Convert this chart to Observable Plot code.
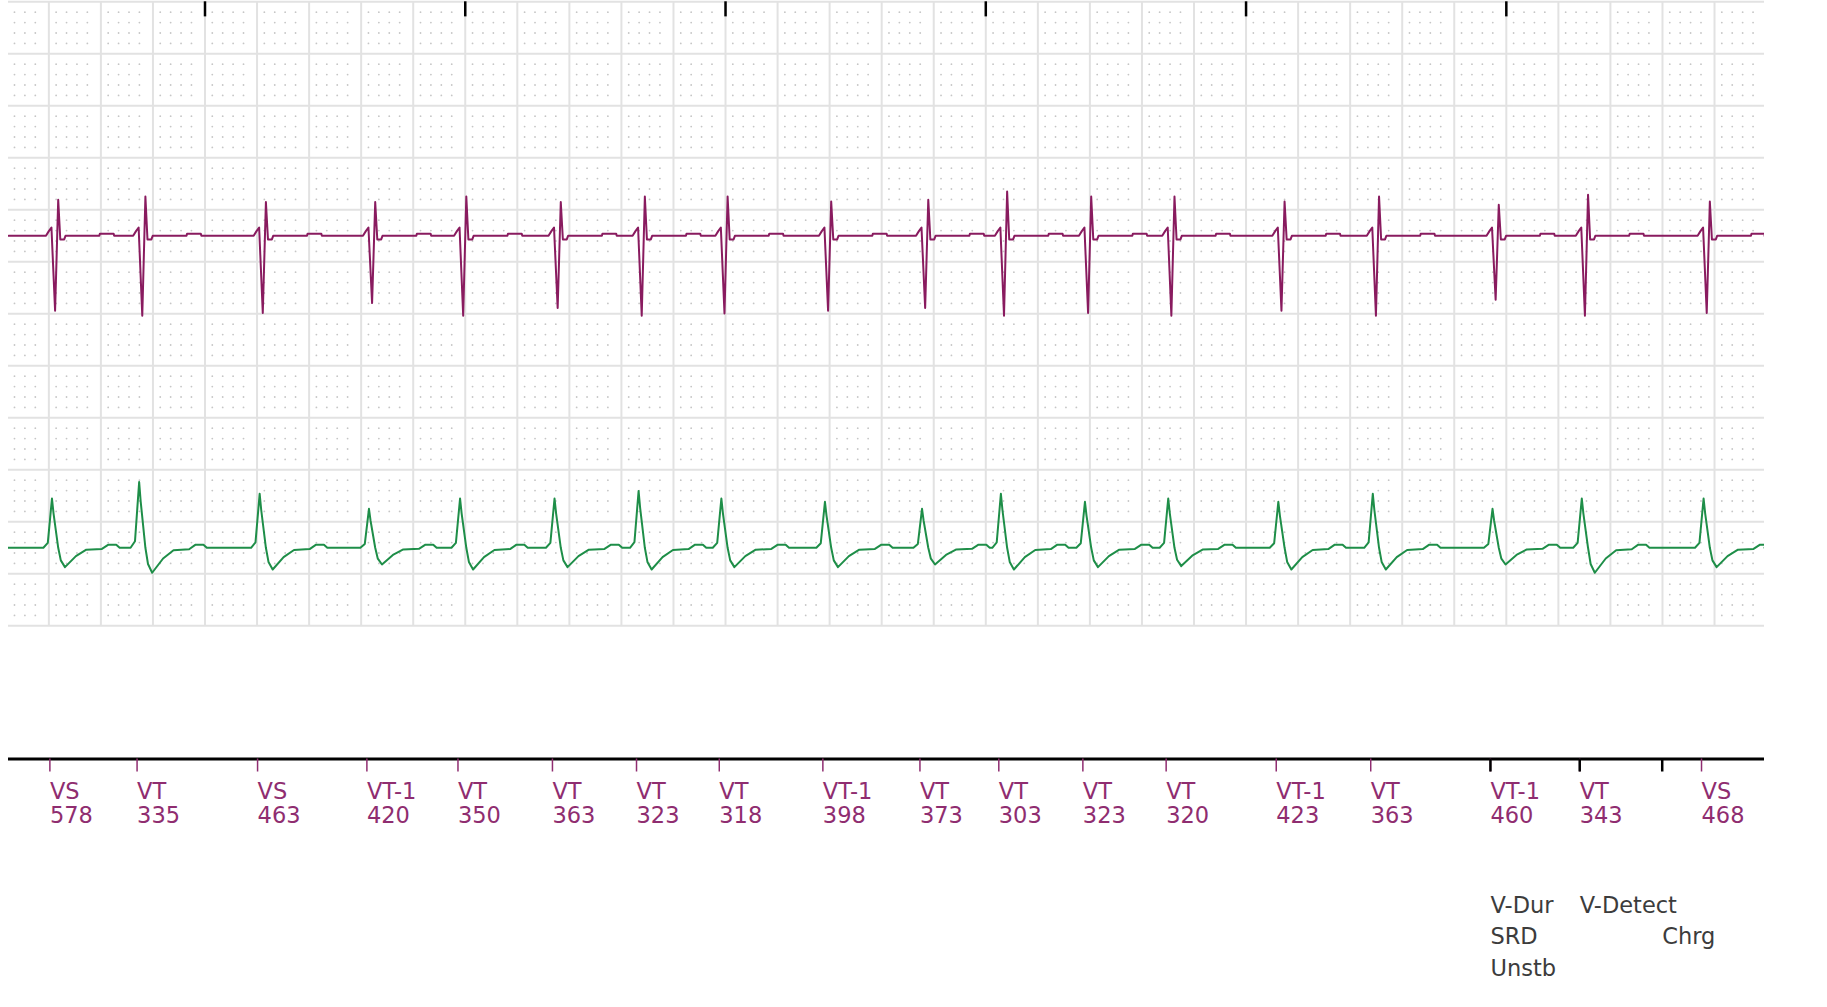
<!DOCTYPE html>
<html><head><meta charset="utf-8">
<script src="https://cdn.jsdelivr.net/npm/d3@7"></script>
<script src="https://cdn.jsdelivr.net/npm/@observablehq/plot@0.6"></script>
<style>
html,body{margin:0;padding:0;background:#fff;}
#chart svg{display:block;}
</style></head><body><div id="chart"></div>
<script>
// ---------------- data read from the strip ----------------
// marker channel: label and interval (ms) of each sensed ventricular event
const eventLabels    = ["VS","VT","VS","VT-1","VT","VT","VT","VT","VT-1","VT","VT","VT","VT","VT-1","VT","VT-1","VT","VS"];
const eventIntervals = [578, 335, 463, 420, 350, 363, 323, 318, 398, 373, 303, 323, 320, 423, 363, 460, 343, 468];
const firstEventTime = 404;            // ms on the strip time axis
// near-field EGM (purple): positive and negative deflection per beat, mm
const nearUp   = [3.46,3.78,3.24,3.24,3.78,3.24,3.78,3.78,3.30,3.46,4.26,3.78,3.78,3.30,3.78,2.98,3.94,3.30];
const nearDown = [7.21,7.69,7.43,6.47,7.69,6.95,7.69,7.47,7.21,6.95,7.69,7.43,7.69,7.21,7.69,6.15,7.69,7.43];
// far-field EGM (green): R peak and following trough per beat, mm
const farPeak   = [4.74,6.32,5.19,3.75,4.74,4.74,5.45,4.74,4.42,3.75,5.19,4.42,4.74,4.42,5.19,3.75,4.74,4.74];
const farTrough = [1.86,2.40,2.09,1.61,2.09,1.86,2.09,1.86,1.86,1.61,2.09,1.86,1.76,2.09,2.09,1.61,2.40,1.86];
// beat shapes read from the strip: [ms from marker, mm, x up/peak, x down/trough]
const nearShape = [[-15,0,0,0],[-4,0.45,0,0],[6,0.8,0,0],[20,0,0,-1],[32,0,1,0],[40,-0.35,0,0],[55,-0.35,0,0],[60,0,0,0],
                   [190,0,0,0],[192,0.2,0,0],[245,0.2,0,0],[247,0,0,0]];
const farShape  = [[-25,0,0,0],[-8,0,0.1,0],[8,0,1,0],[14,0,0.7,0],[32,0,0,0],[42,0,0,-0.65],[58,0,0,-1],[100,0,0,-0.43],
                   [140,0,0,-0.1],[200,0,0,-0.06],[225,0.3,0,0],[255,0.3,0,0],[268,0,0,0]];
// annotations under the marker channel
const annotationEvents = [15, 16];
const annotationTexts  = ["V-Dur\nSRD\nUnstb", "V-Detect"];
const chargeTime = 6599;
const chargeText = "\nChrg";
const secondTicks = [1000, 2000, 3000, 4000, 5000, 6000];
const timeDomain = [245, 6992];

// ---------------- build tables ----------------
const eventTimes = [];
eventIntervals.forEach((iv, i) => eventTimes.push(i === 0 ? firstEventTime : eventTimes[i - 1] + iv));
const labelOf = new Map(eventTimes.map((t, i) => [t, eventLabels[i] + "\n" + eventIntervals[i]]));

function trace(shape, a, b) {
  const pts = [{t: timeDomain[0], v: 0}];
  eventTimes.forEach((T, i) => {
    for (const [dt, c, ka, kb] of shape) pts.push({t: T + dt, v: c + ka * a[i] + kb * b[i]});
  });
  pts.push({t: timeDomain[1], v: 0});
  return pts;
}
const nearBase = 37.5, farBase = 7.5;   // channel baselines on the 0–60 mm paper
const near = trace(nearShape, nearUp, nearDown).map(d => ({t: d.t, y: nearBase + d.v}));
const far  = trace(farShape, farPeak, farTrough).map(d => ({t: d.t, y: farBase + d.v}));

const annotations = annotationEvents.map((e, i) => ({t: eventTimes[e], text: annotationTexts[i]}))
  .concat([{t: chargeTime, text: chargeText}]);
const blackTicks = annotationEvents.map(e => eventTimes[e]).concat([chargeTime]);

// paper grid
const majorX = d3.range(400, timeDomain[1], 200);
const majorY = d3.range(0, 61, 5);
const minorX = d3.range(240, timeDomain[1], 40).filter(t => t % 200 !== 0).map(t => t - 12).filter(t => t > timeDomain[0] && t < timeDomain[1] - 10);
const minorY = d3.range(0, 60, 1).filter(y => y % 5 !== 0);
const dots = [];
for (const x of minorX) for (const y of minorY) dots.push({x, y});

const yMin = -12.81;
const purple = "#891b5f", green = "#1e8e48", labelColor = "#8f2d70";

const chart = Plot.plot({
  width: 1827, height: 1007,
  marginLeft: 8, marginRight: 63, marginTop: 1.3, marginBottom: 248.5,
  x: {domain: timeDomain},
  y: {domain: [yMin, 60], axis: null},
  style: {fontFamily: "DejaVu Sans", background: "white", overflow: "visible"},
  marks: [
    Plot.dot(dots, {x: "x", y: "y", r: 0.9, fill: "#c6c6c6", stroke: null}),
    Plot.ruleY(majorY, {stroke: "#e2e2e2", strokeWidth: 2}),
    Plot.ruleX(majorX, {y1: 0, y2: 60, stroke: "#e2e2e2", strokeWidth: 2}),
    Plot.ruleX(secondTicks, {y1: 60, y2: 58.55, stroke: "black", strokeWidth: 2.5}),
    Plot.line(near, {x: "t", y: "y", stroke: purple, strokeWidth: 2, clip: true}),
    Plot.line(far, {x: "t", y: "y", stroke: green, strokeWidth: 2, clip: true}),
    Plot.ruleY([yMin], {stroke: "black", strokeWidth: 3}),
    Plot.axisX({anchor: "bottom", ticks: eventTimes, tickFormat: d => labelOf.get(d), tickSize: 13, tickPadding: 10.3,
      textAnchor: "start", lineAnchor: "top", lineHeight: 1.067, fontSize: 22.5, color: labelColor, strokeWidth: 1.5, label: null}),
    Plot.axisX({anchor: "bottom", ticks: blackTicks, tickFormat: () => "", tickSize: 13, stroke: "black", strokeWidth: 2.5, label: null}),
    Plot.text(annotations, {x: "t", text: "text", frameAnchor: "bottom", textAnchor: "start", lineAnchor: "top",
      lineHeight: 1.39, dy: 132, fontSize: 22.5, fill: "#3c3c3c"})
  ]
});
document.getElementById("chart").appendChild(chart);
</script></body></html>
